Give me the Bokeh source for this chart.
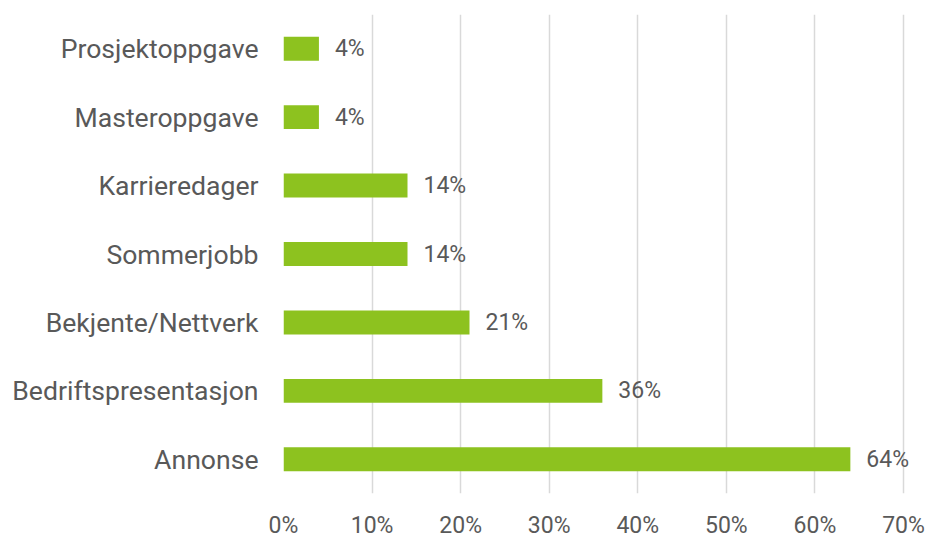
from bokeh.plotting import figure
from bokeh.models import ColumnDataSource, FixedTicker, CustomJSTickFormatter, Range1d, LabelSet
from bokeh.core.properties import value
from bokeh.embed import file_html
from bokeh.resources import INLINE

categories = ["Annonse", "Bedriftspresentasjon", "Bekjente/Nettverk", "Sommerjobb",
              "Karrieredager", "Masteroppgave", "Prosjektoppgave"]
values = [64, 36, 21, 14, 14, 4, 4]
labels = ["64%", "36%", "21%", "14%", "14%", "4%", "4%"]
x_ticks = [0, 10, 20, 30, 40, 50, 60, 70]

FONT = "Roboto"
TXT = "#595959"

src = ColumnDataSource(dict(cat=categories, val=values, lab=labels))

# frame spans 283..928 px; 70% sits at ~903 px, extra room on right for the 64% label
x_end = 70 * (928 - 283) / (903 - 283)

p = figure(y_range=categories, x_range=Range1d(0, x_end), width=928, height=541,
           output_backend="svg", toolbar_location=None,
           min_border_left=283, min_border_right=0, min_border_top=14, min_border_bottom=44)
p.outline_line_color = None
p.background_fill_color = "white"

p.hbar(y="cat", right="val", left=0, height=0.35, source=src,
       fill_color="#8DC21F", line_color=None)

lbl = LabelSet(x="val", y="cat", text="lab", source=src, x_offset=16, y_offset=0,
               text_baseline="middle", text_font=value(FONT), text_font_size="23px",
               text_color=TXT)
p.add_layout(lbl)

p.xaxis.ticker = FixedTicker(ticks=x_ticks)
p.xaxis.formatter = CustomJSTickFormatter(code="return tick + '%';")
p.xaxis.axis_line_color = None
p.xaxis.major_tick_line_color = None
p.xaxis.minor_tick_line_color = None
p.xaxis.major_label_text_font = FONT
p.xaxis.major_label_text_font_size = "23px"
p.xaxis.major_label_text_color = TXT
p.xaxis.major_label_standoff = 12

p.yaxis.axis_line_color = None
p.yaxis.major_tick_line_color = None
p.yaxis.minor_tick_line_color = None
p.yaxis.major_label_text_font = FONT
p.yaxis.major_label_text_font_size = "26.6px"
p.yaxis.major_label_text_color = TXT
p.yaxis.major_label_standoff = 19

p.ygrid.grid_line_color = None
p.xgrid.grid_line_color = "#D9D9D9"
p.xgrid.grid_line_width = 1.5

open("out.html", "w").write(file_html(p, INLINE))
